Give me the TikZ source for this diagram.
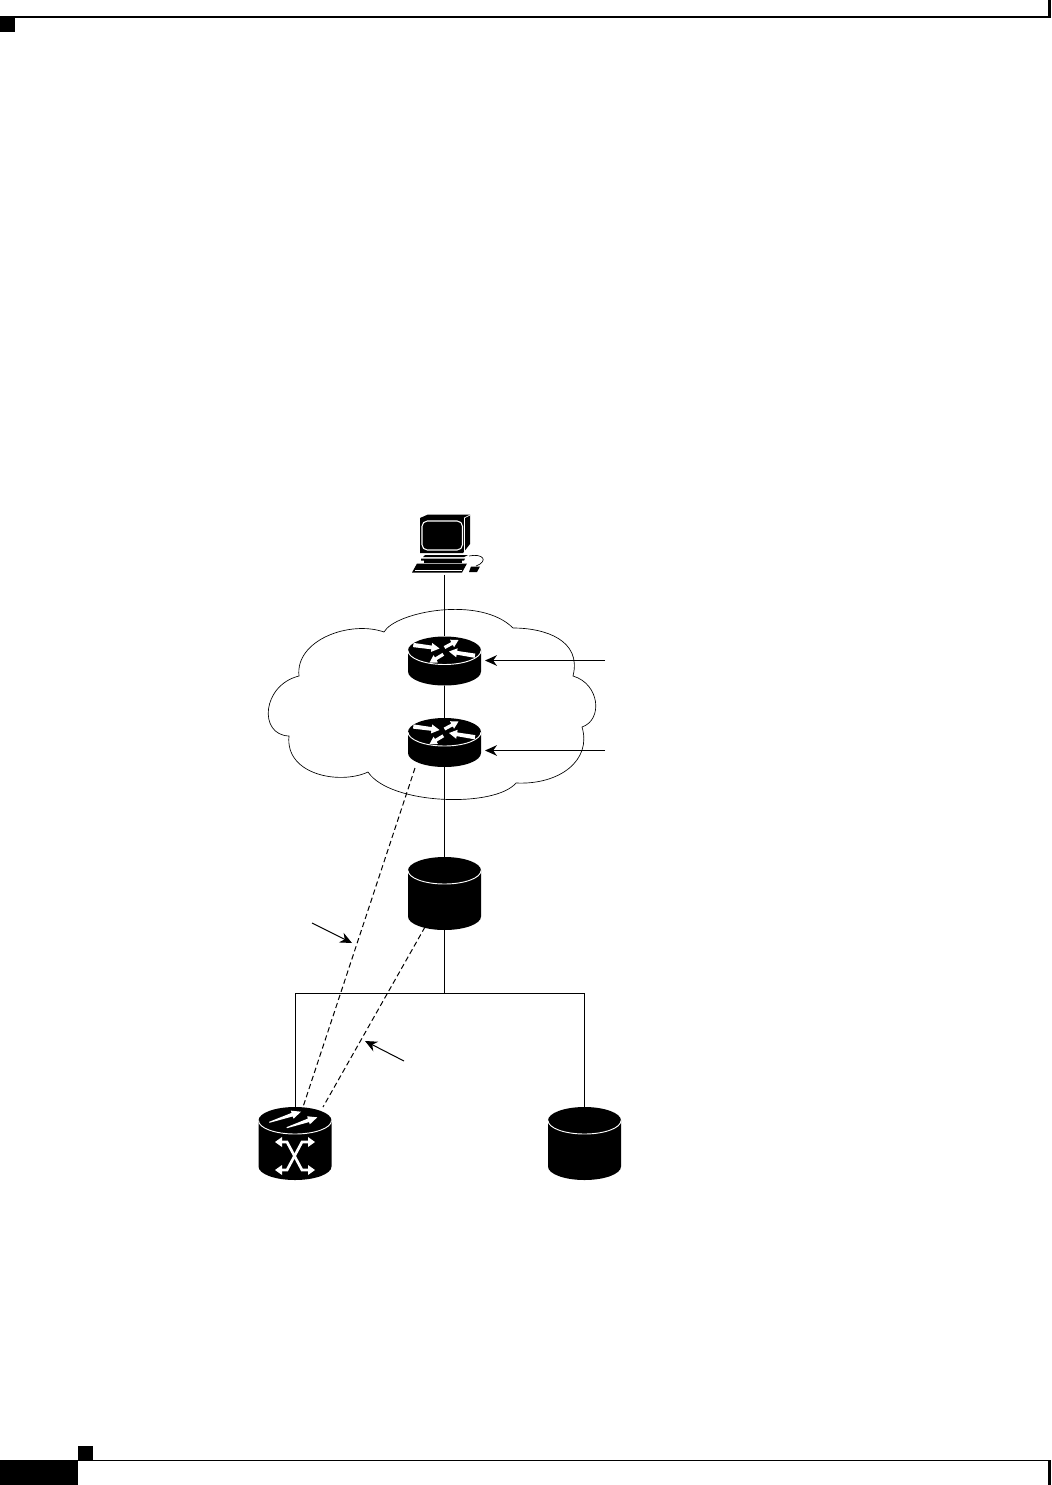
\documentclass[tikz,border=0pt]{standalone}
\usetikzlibrary{arrows.meta,calc}
\tikzset{
  x=0.75pt,y=-0.75pt,
  iconbox/.style={rectangle,inner sep=0pt,minimum width=54.75pt,minimum height=36.75pt},
  tallbox/.style={rectangle,inner sep=0pt,minimum width=54.75pt,minimum height=54.75pt},
  pcbox/.style={rectangle,inner sep=0pt,minimum width=51pt,minimum height=46pt},
  link/.style={draw=black,line width=0.75pt},
  dlink/.style={draw=black,line width=0.75pt,dash pattern=on 4pt off 2.4pt},
  callout/.style={draw=black,line width=0.75pt,-{Stealth[length=9pt,width=8pt]}},
}
% tapered white arrow: tail, tip, tail half width, neck half width, head half width, head length
\newcommand{\taper}[6]{%
  \coordinate (tA) at (#1);
  \coordinate (tB) at (#2);
  \coordinate (tN) at ($(tB)!#6!(tA)$);
  \fill[white] ($(tA)!#3!90:(tB)$) -- ($(tN)!#4!-90:(tA)$) -- ($(tN)!#5!-90:(tA)$) -- (tB)
     -- ($(tN)!#5!90:(tA)$) -- ($(tN)!#4!90:(tA)$) -- ($(tA)!#3!-90:(tB)$) -- cycle;}
\newcommand{\cylinderbody}[3]{% half height, x radius, y radius
  \fill[black] (-#2,-#1) -- (-#2,#1) arc[start angle=180,end angle=0,x radius=#2,y radius=#3] -- (#2,-#1) arc[start angle=0,end angle=-180,x radius=#2,y radius=#3] -- cycle;
  \draw[white,line width=0.7pt] (-#2,-#1) arc[start angle=180,end angle=0,x radius=#2,y radius=#3];}
\newcommand{\routericon}[1]{%
  \begin{scope}[shift={(#1)}]
    \cylinderbody{10.5}{36.5}{14}
    \taper{-31.2,-16}{-5,-12.5}{1.6pt}{1.4pt}{3.4pt}{6pt}
    \taper{0,-13.5}{14,-21}{1.2pt}{1.2pt}{3.2pt}{5.5pt}
    \taper{30.5,-5.3}{4.5,-9.5}{1.6pt}{1.4pt}{3.4pt}{6pt}
    \taper{-1.2,-6.7}{-15,1.6}{1.2pt}{1.2pt}{3.2pt}{5.5pt}
  \end{scope}}
\newcommand{\dbicon}[1]{%
  \begin{scope}[shift={(#1)}]
    \cylinderbody{23}{36.5}{13.5}
  \end{scope}}
\begin{document}
\begin{tikzpicture}
\useasboundingbox (0,0) rectangle (1051,1485);
% page furniture
\fill[black] (0,16) rectangle (1048,18);
\fill[black] (0,17) rectangle (15,32);
\fill[black] (1048,0) rectangle (1051,18);
\fill[black] (0,1460) rectangle (78,1485);
\fill[black] (78,1446) rectangle (93,1460);
\fill[black] (78,1459.5) rectangle (1048,1461);
\fill[black] (1048,1460) rectangle (1051,1485);
% cloud
\draw[black,line width=0.5pt,fill=white]
  (384,632) .. controls (395,612) and (480,595) .. (513,628)
  .. controls (545,628) and (582,640) .. (573,676)
  .. controls (600,684) and (603,720) .. (582,727)
  .. controls (592,760) and (560,785) .. (516,783)
  .. controls (495,808) and (390,805) .. (368,772)
  .. controls (340,785) and (285,775) .. (289,736)
  .. controls (258,735) and (262,685) .. (299,676)
  .. controls (295,640) and (350,620) .. (384,632) -- cycle;
% named nodes
\node[pcbox] (pc) at (444.5,544) {};
\node[iconbox] (r1) at (444.5,661) {};
\node[iconbox] (r2) at (444.5,742.5) {};
\node[tallbox] (db1) at (444.5,893.5) {};
\node[tallbox] (sw) at (295,1143.5) {};
\node[tallbox] (db2) at (584.5,1143.5) {};
\coordinate (busc) at (444.5,993);
\coordinate (busl) at (295.5,993);
\coordinate (busr) at (584.5,993);
\coordinate (a1) at (605,660.5);
\coordinate (a2) at (605,750.5);
\coordinate (a3) at (312,923);
\coordinate (a4) at (404,1061);
\coordinate (a1e) at (485,660.5);
\coordinate (a2e) at (485,750.5);
\coordinate (a3e) at (352,943);
\coordinate (a4e) at (365,1041);
% connectors
\draw[link] (pc.south -| r1) -- (r1.north);
\draw[link] (r1) -- (r2);
\draw[link] (r2) -- (db1);
\draw[link] (db1) -- (busc);
\draw[link] (sw.north -| busl) -- (busl) -- (busr) -- (db2.north);
\coordinate (d1s) at (415,768);
\coordinate (d2s) at (425,927);
\coordinate (d1e) at (303,1107);
\coordinate (d2e) at (323,1107);
\draw[dlink] (d1s) -- (d1e);
\draw[dlink] (d2s) -- (d2e);
\draw[callout] (a1) -- (a1e);
\draw[callout] (a2) -- (a2e);
\draw[callout] (a3) -- (a3e);
\draw[callout] (a4) -- (a4e);
% icons
\routericon{r1}
\routericon{r2}
\dbicon{db1}
\dbicon{db2}
\dbicon{sw}
% switch glyphs
\begin{scope}[shift={(sw)}]
  \taper{-25.7,-21.2}{6,-31.8}{0.4pt}{1.4pt}{3.2pt}{7pt}
  \taper{-8.3,-15.8}{22.3,-26.2}{0.4pt}{1.4pt}{3.2pt}{7pt}
  \draw[white,line width=2pt,line join=miter] (-14,-1.5) -- (-8,-1.5) -- (7,26.5) -- (14,26.5);
  \draw[white,line width=2pt,line join=miter] (-14,26.5) -- (-8,26.5) -- (7,-1.5) -- (14,-1.5);
  \fill[white] (-20,-1.5) -- (-13,-6.5) -- (-13,3.5) -- cycle;
  \fill[white] (20,-1.5) -- (13,-6.5) -- (13,3.5) -- cycle;
  \fill[white] (-20,26.5) -- (-13,21.5) -- (-13,31.5) -- cycle;
  \fill[white] (20,26.5) -- (13,21.5) -- (13,31.5) -- cycle;
\end{scope}
% computer
\fill[black] (420,518) -- (428,514.5) -- (470,514.5) -- (470,544) -- (463,553) -- (420,553) -- cycle;
\draw[white,line width=0.5pt] (464,518) -- (470,515);
\draw[white,line width=0.5pt] (464,518) -- (464,553);
\draw[white,line width=0.8pt,rounded corners=4pt] (422,521) rectangle (462.5,550);
\fill[black] (425,555) -- (468,555) -- (464,557) -- (423,557) -- cycle;
\fill[black] (421,558.5) -- (465,558.5) -- (464,560.5) -- (421,560.5) -- cycle;
\fill[black] (424,560) rectangle (462,562.5);
\fill[black] (417,563.5) -- (467,563.5) -- (462,572.5) -- (412,572.5) -- cycle;
\draw[white,line width=0.4pt] (415,570) -- (462,570);
\fill[black] (471,566.5) -- (480,566.5) -- (477,572) -- (469,572) -- cycle;
\draw[black,line width=0.5pt] (469,556) .. controls (483,553) and (489,561) .. (476,566);
\end{tikzpicture}
\end{document}
